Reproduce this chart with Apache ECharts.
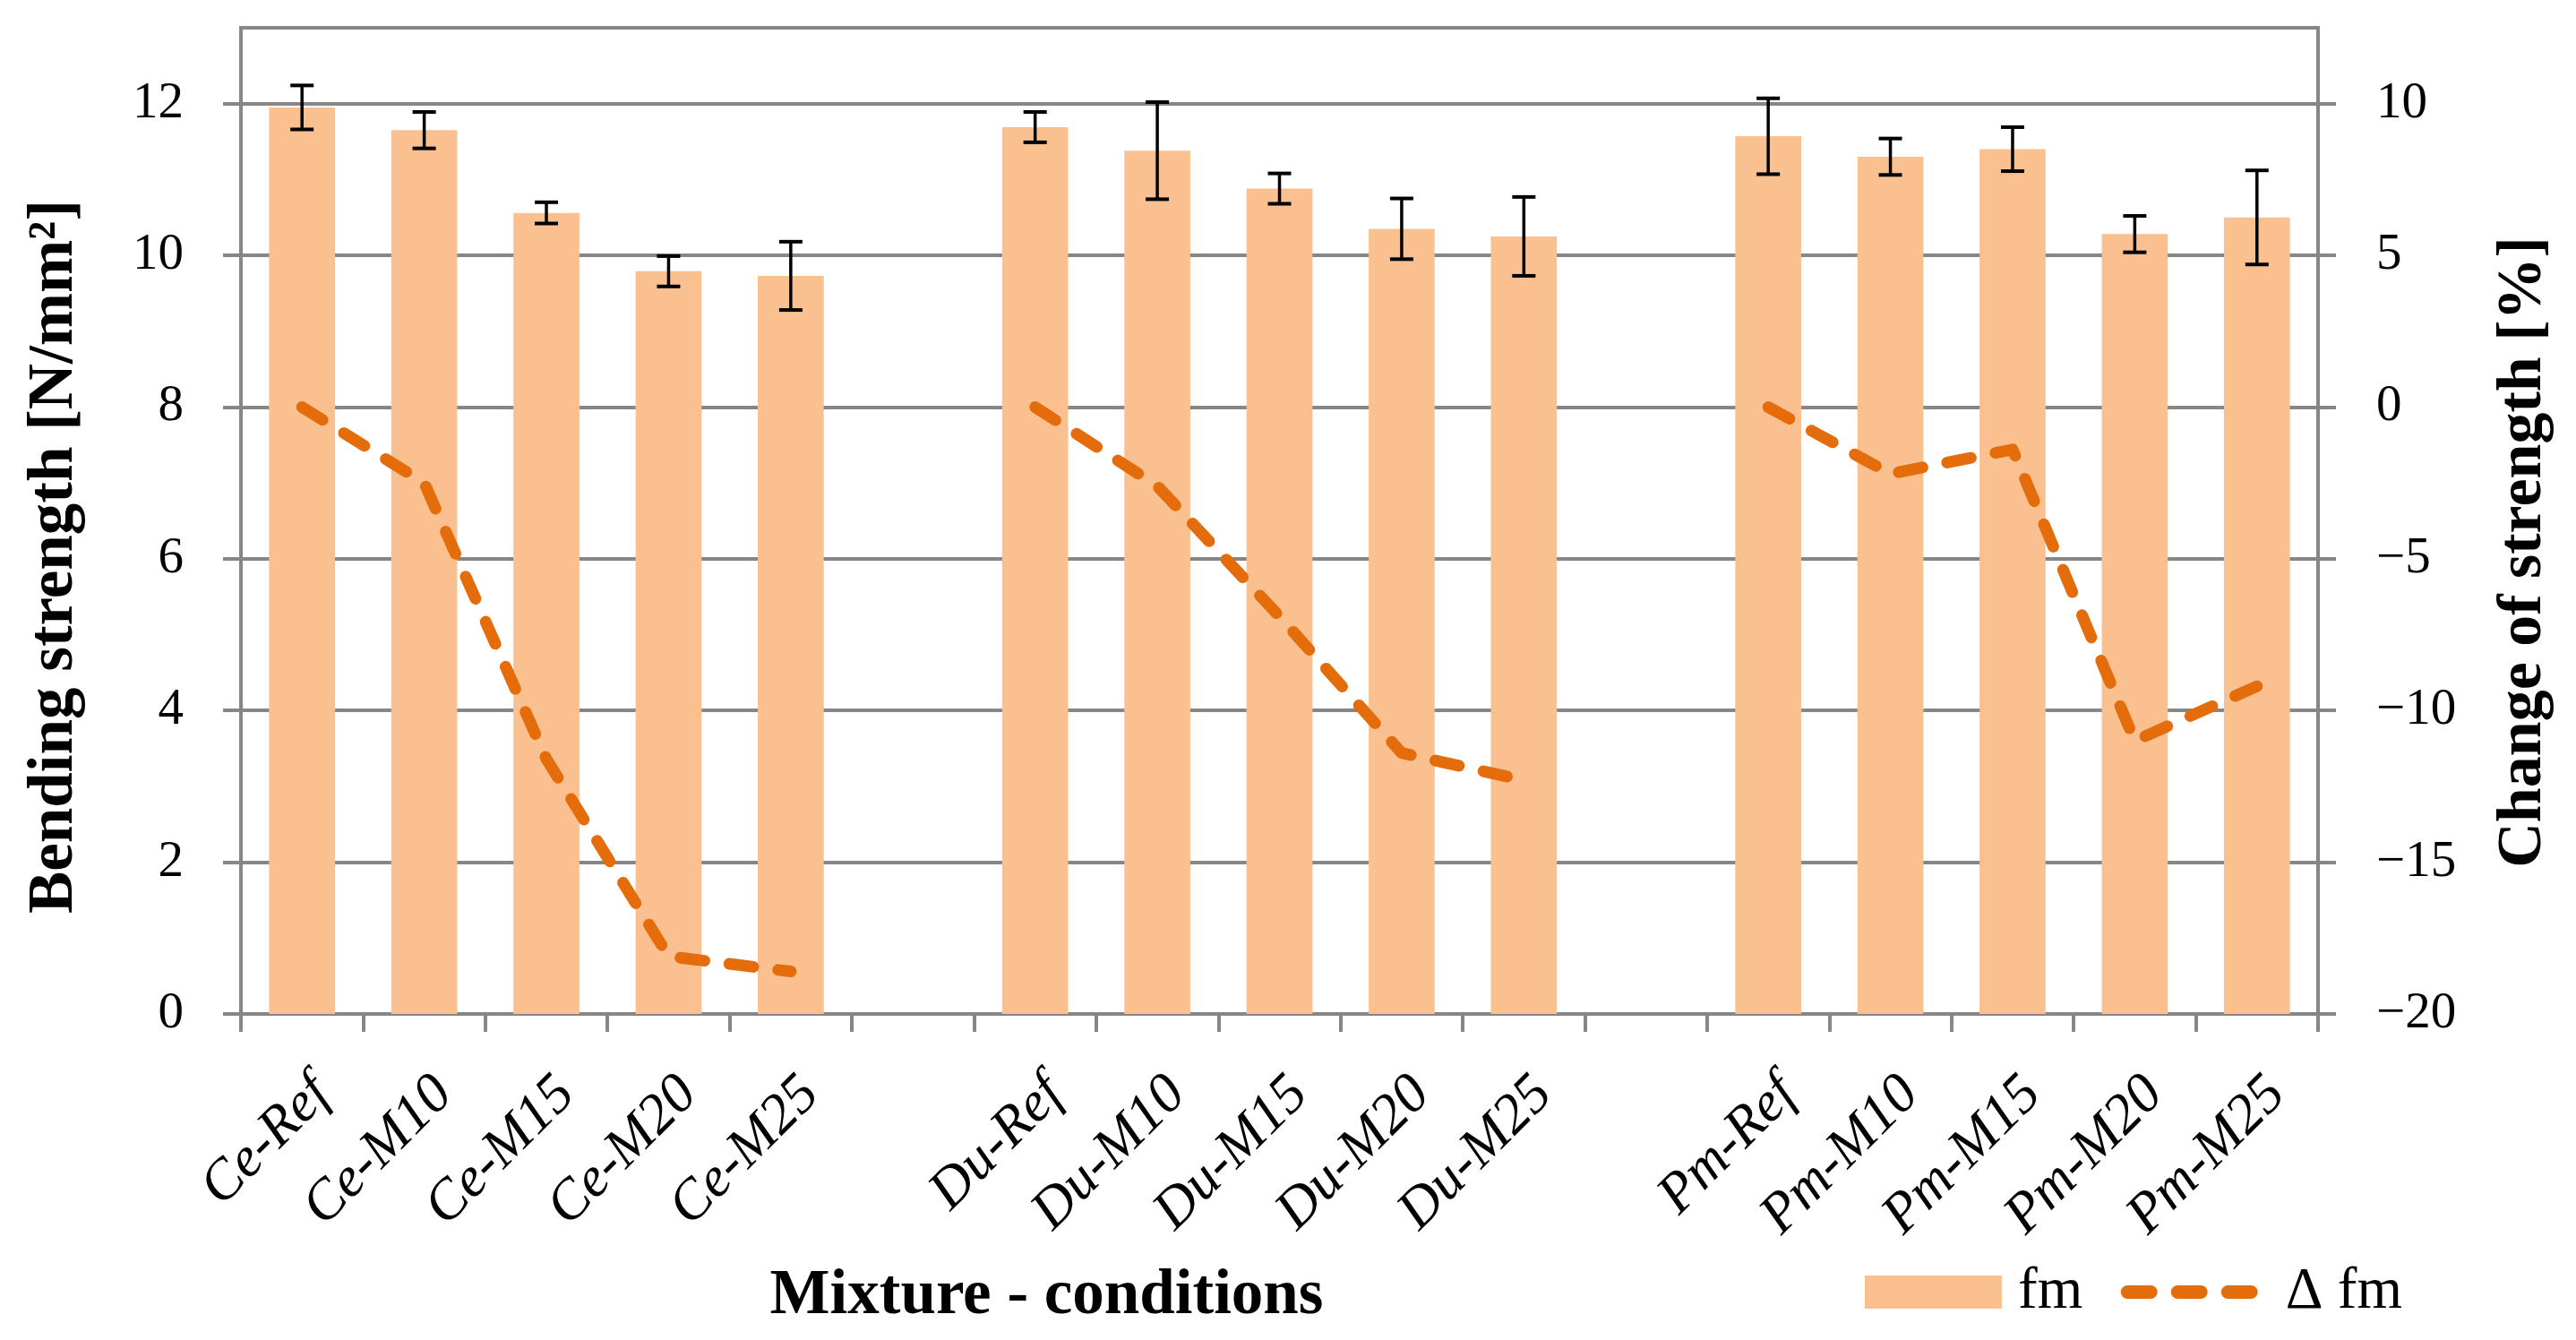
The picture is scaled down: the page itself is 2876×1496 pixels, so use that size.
<!DOCTYPE html>
<html><head><meta charset="utf-8">
<script src="https://cdn.jsdelivr.net/npm/echarts@6/dist/echarts.min.js"></script>
<style>html,body{margin:0;padding:0;background:#fff}#c{width:2876px;height:1496px}</style>
</head><body><div id="c"></div>
<script>
const categories = ['Ce-Ref','Ce-M10','Ce-M15','Ce-M20','Ce-M25',' ',
  'Du-Ref','Du-M10','Du-M15','Du-M20','Du-M25','  ',
  'Pm-Ref','Pm-M10','Pm-M15','Pm-M20','Pm-M25'];
const fm = [11.95, 11.65, 10.56, 9.79, 9.73, null, 11.69, 11.38, 10.88, 10.35, 10.25, null, 11.57, 11.30, 11.40, 10.28, 10.50];
const fmErr = [0.29, 0.24, 0.14, 0.20, 0.45, null, 0.20, 0.64, 0.20, 0.40, 0.52, null, 0.50, 0.24, 0.29, 0.24, 0.62];
const deltaFm = [0, -2.5, -11.6, -18.1, -18.6, null, 0, -2.6, -6.9, -11.4, -12.3, null, 0, -2.2, -1.4, -11.0, -9.2];
const leftTicks = [0, 2, 4, 6, 8, 10, 12];
const rightTicks = [-20, -15, -10, -5, 0, 5, 10];

const GRAY = '#868686';
const BAR = '#FAC090';
const LINE = '#E46C0A';
const FONT = 'Liberation Serif';

const errData = [];
fm.forEach((v, i) => { if (v != null) errData.push([i, v - fmErr[i], v + fmErr[i]]); });

const chart = echarts.init(document.getElementById('c'), null, {renderer: 'canvas'});
chart.setOption({
  backgroundColor: '#fff',
  animation: false,
  textStyle: {fontFamily: FONT},
  grid: {left: 269, right: 288, top: 31, bottom: 364, show: true, borderColor: GRAY, borderWidth: 4, containLabel: false},
  legend: {
    left: 2077, top: 1405, itemWidth: 153, itemHeight: 37, itemGap: 35,
    textStyle: {fontFamily: FONT, fontSize: 65, color: '#000'},
    formatter: n => (n === 'fm' ? '\u2009' + n : '\u2009\u2009' + n),
    data: [
      {name: 'fm', icon: 'rect'},
      {name: 'Δ fm', itemStyle: {opacity: 0, color: 'rgba(0,0,0,0)', borderWidth: 0},
       lineStyle: {type: [26, 30], dashOffset: -7.5, width: 15, cap: 'round', color: LINE}}
    ]
  },
  xAxis: {
    type: 'category', data: categories,
    name: 'Mixture - conditions', nameLocation: 'middle', nameGap: 280,
    nameTextStyle: {fontFamily: FONT, fontWeight: 'bold', fontSize: 71, color: '#000', padding: [0, 520, 0, 0]},
    axisLine: {lineStyle: {color: GRAY, width: 4}},
    axisTick: {show: true, length: 20, interval: 0, lineStyle: {color: GRAY, width: 4}},
    axisLabel: {interval: 0, rotate: 45, margin: 58, verticalAlign: 'top', fontFamily: FONT, fontStyle: 'italic', fontSize: 63, color: '#000'},
    splitLine: {show: false}
  },
  yAxis: [
    {
      type: 'value', min: 0, max: 13, interval: 2, position: 'left',
      name: 'Bending strength [N/mm²]', nameLocation: 'middle', nameGap: 172,
      nameTextStyle: {fontFamily: FONT, fontWeight: 'bold', fontSize: 71, color: '#000', padding: [0, 80, 0, 0]},
      axisLine: {show: true, lineStyle: {color: GRAY, width: 4}},
      axisTick: {show: true, length: 20, customValues: leftTicks, lineStyle: {color: GRAY, width: 4}},
      axisLabel: {margin: 64, customValues: leftTicks, fontFamily: FONT, fontSize: 57, color: '#000',
        formatter: v => (leftTicks.indexOf(v) >= 0 ? String(v) : '')},
      splitLine: {show: true, lineStyle: {color: GRAY, width: 4}}
    },
    {
      type: 'value', min: -20, max: 12.5, interval: 5, position: 'right',
      name: 'Change of strength [%]', nameLocation: 'middle', nameGap: 195,
      nameTextStyle: {fontFamily: FONT, fontWeight: 'bold', fontSize: 70, color: '#000', padding: [0, 70, 0, 0]},
      axisLine: {show: true, lineStyle: {color: GRAY, width: 4}},
      axisTick: {show: true, length: 20, customValues: rightTicks, lineStyle: {color: GRAY, width: 4}},
      axisLabel: {margin: 65, customValues: rightTicks, fontFamily: FONT, fontSize: 57, color: '#000',
        formatter: v => (rightTicks.indexOf(v) >= 0 ? String(v).replace('-', '\u2212') : '')},
      splitLine: {show: false}
    }
  ],
  series: [
    {
      name: 'fm', type: 'bar', data: fm, yAxisIndex: 0, barWidth: '54%',
      itemStyle: {color: BAR}, z: 2, silent: true
    },
    {
      name: 'error', type: 'custom', yAxisIndex: 0, data: errData, z: 5, silent: true,
      encode: {x: 0, y: [1, 2]},
      renderItem: function (params, api) {
        const x = api.value(0);
        const lo = api.coord([x, api.value(1)]);
        const hi = api.coord([x, api.value(2)]);
        const hw = 13;
        return {type: 'group', children: [
          {type: 'line', shape: {x1: lo[0], y1: lo[1], x2: hi[0], y2: hi[1]}, style: {stroke: '#000', lineWidth: 3.5}},
          {type: 'line', shape: {x1: lo[0] - hw, y1: lo[1], x2: lo[0] + hw, y2: lo[1]}, style: {stroke: '#000', lineWidth: 4}},
          {type: 'line', shape: {x1: hi[0] - hw, y1: hi[1], x2: hi[0] + hw, y2: hi[1]}, style: {stroke: '#000', lineWidth: 4}}
        ]};
      }
    },
    {
      name: 'Δ fm', type: 'line', data: deltaFm, yAxisIndex: 1, symbol: 'none', showSymbol: false,
      connectNulls: false, z: 6, silent: true,
      lineStyle: {color: LINE, width: 13, type: [27, 28], cap: 'round', join: 'round'},
      itemStyle: {color: LINE}
    }
  ]
});
</script>
</body></html>
